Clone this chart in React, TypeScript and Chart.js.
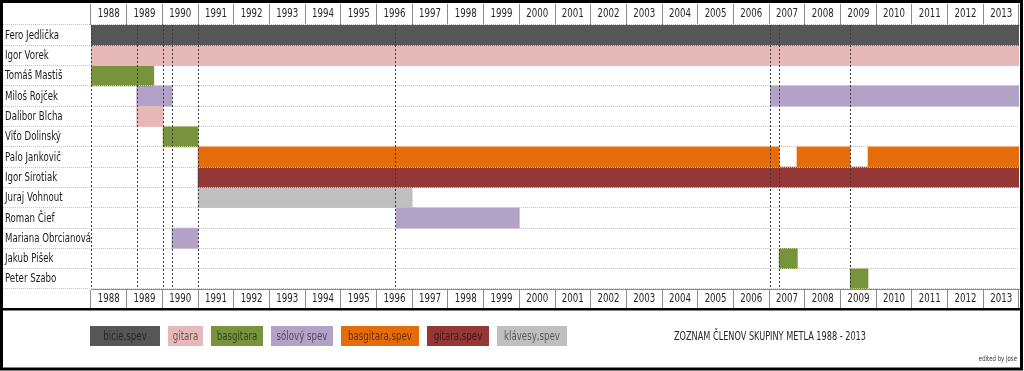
import { useEffect, useRef } from "react";
import { Chart, registerables } from "chart.js";

Chart.register(...registerables);

type Seg = [string, number, number];

const members = [
  "Fero Jedlička",
  "Igor Vorek",
  "Tomáš Mastiš",
  "Miloš Rojček",
  "Dalibor Blcha",
  "Viťo Dolinský",
  "Palo Jankovič",
  "Igor Sirotiak",
  "Juraj Vohnout",
  "Roman Čief",
  "Mariana Obrcianová",
  "Jakub Pišek",
  "Peter Szabo",
];

const years = [
  "1988", "1989", "1990", "1991", "1992", "1993", "1994", "1995", "1996",
  "1997", "1998", "1999", "2000", "2001", "2002", "2003", "2004", "2005",
  "2006", "2007", "2008", "2009", "2010", "2011", "2012", "2013",
];

const roles = [
  "bicie,spev",
  "gitara",
  "basgitara",
  "sólový spev",
  "basgitara,spev",
  "gitara,spev",
  "klávesy,spev",
];

const roleColors = [
  "#565656",
  "#E6B9B8",
  "#77933C",
  "#B3A2C7",
  "#E46C0A",
  "#953735",
  "#BFBFBF",
];

// [member, from, to] in years
const bicieSpev: Seg[] = [["Fero Jedlička", 1988, 2014]];
const gitara: Seg[] = [
  ["Igor Vorek", 1988, 2014],
  ["Dalibor Blcha", 1989.28, 1990.02],
];
const basgitara: Seg[] = [
  ["Tomáš Mastiš", 1988, 1989.76],
  ["Viťo Dolinský", 1990.02, 1991],
  ["Jakub Pišek", 2007.28, 2007.79],
  ["Peter Szabo", 2009.27, 2009.77],
];
const solovySpev: Seg[] = [
  ["Miloš Rojček", 1989.28, 1990.27],
  ["Miloš Rojček", 2007.03, 2014],
  ["Roman Čief", 1996.55, 2000],
  ["Mariana Obrcianová", 1990.27, 1991],
];
const basgitaraSpev: Seg[] = [
  ["Palo Jankovič", 1991, 2007.28],
  ["Palo Jankovič", 2007.78, 2009.27],
  ["Palo Jankovič", 2009.77, 2014],
];
const gitaraSpev: Seg[] = [["Igor Sirotiak", 1991, 2014]];
const klavesySpev: Seg[] = [["Juraj Vohnout", 1991, 1997]];

// dotted vertical markers of line-up changes
const changeMarks = [1988, 1989.28, 1990.02, 1990.27, 1991, 1996.53, 2007.03, 2007.28, 2009.27];

const chartTitle = "ZOZNAM ČLENOV SKUPINY METLA 1988 - 2013";
const credit = "edited by Jose";

const FONT = "'Liberation Sans Narrow', 'DejaVu Sans Condensed', 'Arial Narrow', Roboto, sans-serif";
const SQUEEZE = 0.8;

function narrowText(
  ctx: CanvasRenderingContext2D,
  text: string,
  x: number,
  y: number,
  align: CanvasTextAlign,
  maxWidth?: number
) {
  ctx.save();
  ctx.translate(x, y);
  ctx.scale(SQUEEZE, 1);
  ctx.textAlign = align;
  ctx.textBaseline = "middle";
  if (maxWidth) ctx.fillText(text, 0, 0, maxWidth / SQUEEZE);
  else ctx.fillText(text, 0, 0);
  ctx.restore();
}

export default function App() {
  const ref = useRef<HTMLCanvasElement>(null);

  useEffect(() => {
    const segsByRole = [bicieSpev, gitara, basgitara, solovySpev, basgitaraSpev, gitaraSpev, klavesySpev];
    const datasets = roles.map((role, i) => ({
      label: role,
      data: segsByRole[i].map(([m, s, e]) => ({ x: [s, e], y: m })),
      backgroundColor: roleColors[i],
      borderWidth: 0,
      grouped: false,
      barPercentage: 1,
      categoryPercentage: 1,
    }));

    const legendWidths = [70, 35, 52, 62, 78, 62, 70];

    const decor = {
      id: "decor",
      beforeDraw(chart: any) {
        const ctx = chart.ctx;
        ctx.save();
        ctx.fillStyle = "#ffffff";
        ctx.fillRect(0, 0, chart.width, chart.height);
        ctx.restore();
      },
      afterDraw(chart: any) {
        const ctx = chart.ctx as CanvasRenderingContext2D;
        const area = chart.chartArea;
        const xs = chart.scales.x;
        const ys = chart.scales.y;
        const top = chart.scales.xTop;
        const bot = chart.scales.xBottom;
        ctx.save();

        // member names in the label column
        ctx.font = `12px ${FONT}`;
        ctx.fillStyle = "#1a1a1a";
        members.forEach((m, i) => {
          narrowText(ctx, m, 5, ys.getPixelForValue(i) + 0.5, "left", 86);
        });

        // year labels in header and footer rows
        ctx.fillStyle = "#262626";
        years.forEach((yr, i) => {
          narrowText(ctx, yr, top.getPixelForValue(i), 14, "center");
          narrowText(ctx, yr, bot.getPixelForValue(i), 299, "center");
        });

        // change markers
        ctx.strokeStyle = "#3a3a3a";
        ctx.lineWidth = 1;
        ctx.setLineDash([2, 2]);
        changeMarks.forEach((v) => {
          const px = Math.round(xs.getPixelForValue(v)) + 0.5;
          ctx.beginPath();
          ctx.moveTo(px, area.top);
          ctx.lineTo(px, area.bottom);
          ctx.stroke();
        });
        ctx.setLineDash([]);

        // thick separator under the bottom year row
        ctx.fillStyle = "#000000";
        ctx.fillRect(0, bot.bottom, 1022, 2.5);
        // outer frame
        ctx.strokeStyle = "#000000";
        ctx.lineWidth = 3;
        ctx.strokeRect(1.5, 1.5, 1020, 367.5);

        // legend boxes
        ctx.font = `12px ${FONT}`;
        let lx = 90;
        const ly = 326;
        roles.forEach((role, i) => {
          const w = legendWidths[i];
          ctx.fillStyle = roleColors[i];
          ctx.fillRect(lx, ly, w, 20);
          ctx.fillStyle = "rgba(0,0,0,0.55)";
          narrowText(ctx, role, lx + w / 2, ly + 10.5, "center", w - 6);
          lx += w + 8;
        });

        // title
        ctx.fillStyle = "#262626";
        ctx.font = `12px ${FONT}`;
        narrowText(ctx, chartTitle, 770, 337, "center", 192);

        // credit
        ctx.font = `7.5px ${FONT}`;
        ctx.fillStyle = "#333333";
        narrowText(ctx, credit, 1017, 359, "right");
        ctx.restore();
      },
    };

    const chart = new Chart(ref.current!, {
      type: "bar",
      data: { labels: members, datasets: datasets as any },
      options: {
        indexAxis: "y",
        responsive: false,
        animation: false,
        devicePixelRatio: 1,
        layout: { padding: { left: 6, right: 5, top: 4, bottom: 63 } },
        plugins: {
          legend: { display: false },
          tooltip: { enabled: false },
          title: { display: false },
        },
        scales: {
          x: { type: "linear", min: 1988, max: 2014, display: false },
          xTop: {
            type: "category",
            labels: years,
            position: "top",
            offset: true,
            grid: { offset: true, drawOnChartArea: false, tickLength: 21, color: "#8c8c8c" },
            border: { display: true, color: "#8c8c8c" },
            ticks: { display: false },
            afterFit: (s: any) => {
              s.height = 21;
            },
          },
          xBottom: {
            type: "category",
            labels: years,
            position: "bottom",
            offset: true,
            grid: { offset: true, drawOnChartArea: false, tickLength: 19, color: "#8c8c8c" },
            border: { display: true, color: "#8c8c8c" },
            ticks: { display: false },
            afterFit: (s: any) => {
              s.height = 19;
            },
          },
          y: {
            type: "category",
            labels: members,
            offset: true,
            grid: {
              offset: true,
              color: "#c4c4c4",
              tickLength: 88,
              tickBorderDash: [1, 1],
              z: 1,
            },
            border: { display: false, dash: [1, 1] },
            ticks: { display: false },
            afterFit: (s: any) => {
              s.width = 85;
            },
          },
        },
      } as any,
      plugins: [decor],
    });
    return () => chart.destroy();
  }, []);

  return (
    <div style={{ position: "fixed", left: 0, top: 0, width: 1024, height: 371, background: "#fff" }}>
      <canvas ref={ref} width={1024} height={371} style={{ display: "block", width: 1024, height: 371 }} />
    </div>
  );
}
